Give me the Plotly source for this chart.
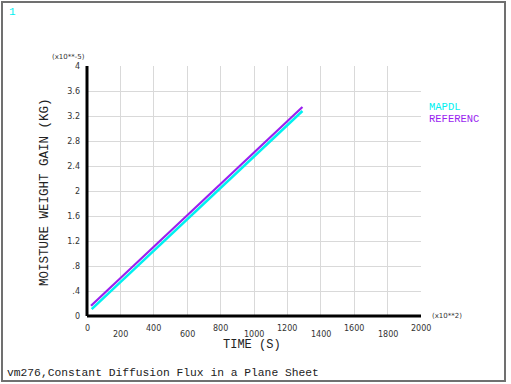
import plotly.graph_objects as go

# Data (time in x10**2 s, weight gain in x10**-5 kg)
time_mapdl = [28, 100, 200, 300, 400, 500, 600, 700, 800, 900, 1000, 1100, 1200, 1290]
gain_mapdl = [0.11, 0.29, 0.54, 0.79, 1.04, 1.30, 1.55, 1.80, 2.05, 2.30, 2.55, 2.80, 3.05, 3.28]
time_ref = [24, 100, 200, 300, 400, 500, 600, 700, 800, 900, 1000, 1100, 1200, 1290]
gain_ref = [0.165, 0.356, 0.607, 0.858, 1.109, 1.36, 1.611, 1.862, 2.113, 2.364, 2.615, 2.866, 3.117, 3.343]

x_tick_vals = [0, 200, 400, 600, 800, 1000, 1200, 1400, 1600, 1800, 2000]
x_tick_text = ["0", "200", "400", "600", "800", "1000", "1200", "1400", "1600", "1800", "2000"]
y_tick_vals = [0, 0.4, 0.8, 1.2, 1.6, 2.0, 2.4, 2.8, 3.2, 3.6, 4.0]
y_tick_text = ["0", ".4", ".8", "1.2", "1.6", "2", "2.4", "2.8", "3.2", "3.6", "4"]

series_names = ["MAPDL", "REFERENC"]
series_colors = ["#00f0f0", "#9a1ff0"]

W, H = 511, 384
L, R, T, B = 87, 421, 66, 316
pw, ph = R - L, B - T


def px(x):
    return (x - L) / pw


def py(y):
    return (B - y) / ph


fig = go.Figure()
fig.add_trace(go.Scatter(x=time_mapdl, y=gain_mapdl, mode="lines", name=series_names[0],
                         line=dict(color=series_colors[0], width=2.5)))
fig.add_trace(go.Scatter(x=time_ref, y=gain_ref, mode="lines", name=series_names[1],
                         line=dict(color=series_colors[1], width=2.2)))

mono = "Liberation Mono"
sans = "DejaVu Sans"

annotations = []
for i, (v, t) in enumerate(zip(x_tick_vals, x_tick_text)):
    annotations.append(dict(x=v, y=py(328 if i % 2 == 0 else 334), xref="x", yref="paper",
                            text=t, showarrow=False, font=dict(family=sans, size=8, color="#333"),
                            xanchor="center", yanchor="middle"))

annotations += [
    dict(x=px(50), y=py(57), xref="paper", yref="paper", text="(x10**-5)",
         showarrow=False, font=dict(family=sans, size=7, color="#333"), xanchor="left", yanchor="middle"),
    dict(x=px(430), y=py(316), xref="paper", yref="paper", text="(x10**2)",
         showarrow=False, font=dict(family=sans, size=7, color="#333"), xanchor="left", yanchor="middle"),
    dict(x=px(45), y=py(192), xref="paper", yref="paper", text="MOISTURE WEIGHT GAIN (KG)",
         textangle=-90, showarrow=False, font=dict(family=mono, size=12.5, color="#222"),
         xanchor="center", yanchor="middle"),
    dict(x=px(252), y=py(345), xref="paper", yref="paper", text="TIME (S)",
         showarrow=False, font=dict(family=mono, size=12, color="#222"),
         xanchor="center", yanchor="middle"),
    dict(x=px(5), y=py(373), xref="paper", yref="paper",
         text="vm276,Constant Diffusion Flux in a Plane Sheet",
         showarrow=False, font=dict(family=mono, size=11.3, color="#222"),
         xanchor="left", yanchor="middle"),
    dict(x=px(7), y=py(12), xref="paper", yref="paper", text="1",
         showarrow=False, font=dict(family=mono, size=11, color=series_colors[0]),
         xanchor="left", yanchor="middle"),
    dict(x=px(427), y=py(107), xref="paper", yref="paper", text=series_names[0],
         showarrow=False, font=dict(family=mono, size=10.5, color=series_colors[0]),
         xanchor="left", yanchor="middle"),
    dict(x=px(427), y=py(119), xref="paper", yref="paper", text=series_names[1],
         showarrow=False, font=dict(family=mono, size=10.5, color=series_colors[1]),
         xanchor="left", yanchor="middle"),
]

shapes = [
    dict(type="rect", xref="paper", yref="paper", x0=px(2), x1=px(505), y0=py(2), y1=py(381),
         line=dict(color="#707070", width=2), layer="below"),
    dict(type="line", xref="paper", yref="paper", x0=0, x1=0, y0=0, y1=1,
         line=dict(color="black", width=3)),
    dict(type="line", xref="paper", yref="paper", x0=0, x1=1, y0=0, y1=0,
         line=dict(color="black", width=3)),
]

fig.update_layout(
    width=W, height=H,
    margin=dict(l=L, r=W - R, t=T, b=H - B),
    paper_bgcolor="white", plot_bgcolor="white",
    showlegend=False,
    xaxis=dict(range=[0, 2000], tickvals=x_tick_vals, showticklabels=False,
               showgrid=True, gridcolor="#d9d9d9", gridwidth=1, zeroline=False,
               showline=False, ticks=""),
    yaxis=dict(range=[0, 4], tickvals=y_tick_vals, ticktext=y_tick_text,
               showgrid=True, gridcolor="#d9d9d9", gridwidth=1, zeroline=False,
               showline=False, ticks="", ticklabelstandoff=6,
               tickfont=dict(family=sans, size=8, color="#333")),
    annotations=annotations,
    shapes=shapes,
)

fig.write_html("out.html")
